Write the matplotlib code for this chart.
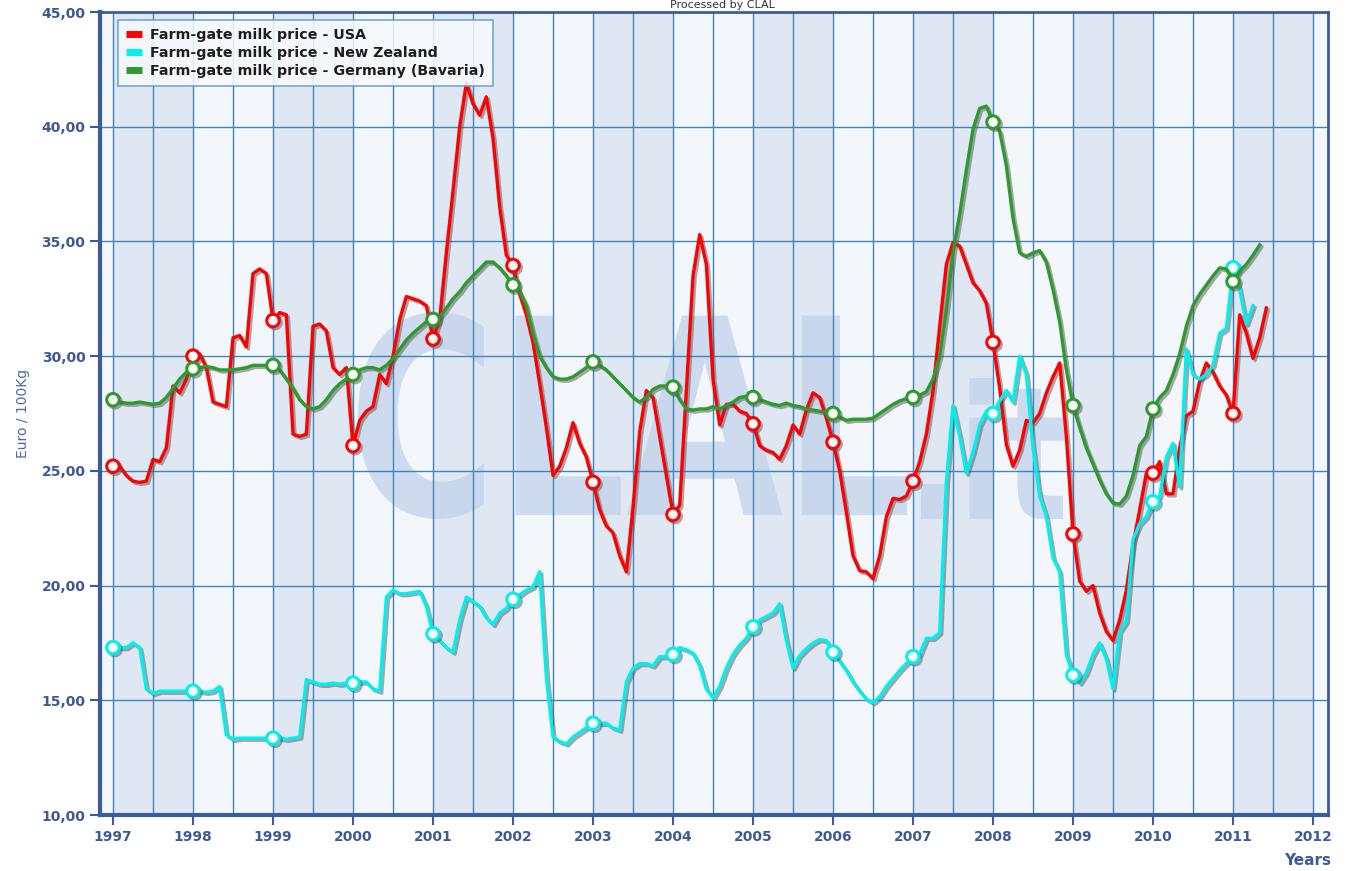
import numpy as np
import matplotlib
matplotlib.use('Agg')
import matplotlib.pyplot as plt
import matplotlib.patheffects as pe
from matplotlib.lines import Line2D
from matplotlib.textpath import TextPath
from matplotlib.patches import PathPatch
from matplotlib.font_manager import FontProperties
from matplotlib.transforms import Affine2D
from matplotlib.ticker import FuncFormatter

# monthly prices, Euro / 100Kg, starting January 1997
usa = [25.2, 25.2, 24.8, 24.55, 24.5, 24.55, 25.5, 25.4, 26.0, 28.7,
       28.4, 29.0, 30.0, 30.1, 29.5, 28.0, 27.9, 27.8, 30.8, 30.9,
       30.4, 33.6, 33.8, 33.6, 31.55, 31.9, 31.8, 26.6, 26.5, 26.6,
       31.3, 31.4, 31.1, 29.5, 29.2, 29.5, 26.1, 27.2, 27.6, 27.8,
       29.2, 28.8, 30.0, 31.6, 32.6, 32.5, 32.4, 32.2, 30.75, 31.6,
       34.5, 37.2, 40.0, 41.9, 41.0, 40.5, 41.3, 39.5, 36.5, 34.4,
       33.95, 32.7, 31.8, 30.6, 28.8, 26.9, 24.8, 25.2, 26.0, 27.1,
       26.2, 25.6, 24.5, 23.3, 22.6, 22.3, 21.3, 20.6, 23.4, 26.7,
       28.5, 28.2, 26.5, 24.8, 23.1, 23.5, 28.5, 33.5, 35.3, 34.0,
       29.0, 27.0, 27.9, 27.9, 27.6, 27.5, 27.05, 26.1, 25.9, 25.8,
       25.5, 26.1, 27.0, 26.6, 27.65, 28.4, 28.2, 27.3, 26.25, 25.0,
       23.2, 21.3, 20.65, 20.6, 20.3, 21.3, 23.0, 23.8, 23.75, 23.9,
       24.55, 25.4, 26.6, 28.5, 31.3, 34.0, 34.95, 34.8, 34.0, 33.2,
       32.85, 32.3, 30.6, 28.6, 26.15, 25.2, 25.9, 27.2, 27.1, 27.5,
       28.4, 29.1, 29.7, 26.5, 22.25, 20.2, 19.75, 20.0, 18.8, 18.0,
       17.6, 18.5, 19.8, 21.8, 23.3, 24.9, 24.9, 25.4, 24.0, 24.0,
       26.0, 27.4, 27.6, 28.9, 29.7, 29.3, 28.7, 28.3, 27.5, 31.8,
       31.0, 29.9, 30.8, 32.1]

new_zealand = [17.3, 17.3, 17.3, 17.5, 17.3, 15.5, 15.3, 15.4, 15.4, 15.4,
               15.4, 15.4, 15.4, 15.4, 15.35, 15.4, 15.6, 13.5, 13.3, 13.35,
               13.35, 13.35, 13.35, 13.35, 13.35, 13.35, 13.3, 13.35, 13.4, 15.9,
               15.8, 15.7, 15.7, 15.75, 15.7, 15.75, 15.75, 15.8, 15.8, 15.5,
               15.4, 19.5, 19.8, 19.65, 19.65, 19.7, 19.75, 19.1, 17.9, 17.6,
               17.3, 17.1, 18.5, 19.5, 19.3, 19.1, 18.6, 18.3, 18.8, 19.0,
               19.4, 19.6, 19.8, 19.95, 20.6, 16.0, 13.4, 13.2, 13.1, 13.4,
               13.6, 13.8, 14.0, 14.0, 14.0, 13.8, 13.7, 15.8, 16.4, 16.6,
               16.6, 16.5, 16.9, 16.9, 17.0, 17.3, 17.2, 17.05, 16.5, 15.5,
               15.1, 15.6, 16.4, 17.0, 17.4, 17.7, 18.2, 18.5, 18.65, 18.8,
               19.2, 17.6, 16.4, 16.95, 17.25, 17.5, 17.65, 17.6, 17.1, 16.7,
               16.3, 15.8, 15.4, 15.05, 14.9, 15.15, 15.6, 15.95, 16.3, 16.6,
               16.9, 17.0, 17.7, 17.7, 17.95, 24.5, 27.85, 26.5, 24.9, 25.8,
               27.0, 27.6, 27.5, 28.05, 28.5, 28.0, 30.0, 29.2, 26.0, 23.9,
               23.0, 21.2, 20.6, 17.0, 16.1, 15.75, 16.2, 17.0, 17.5, 16.8,
               15.5, 18.0, 18.45, 22.0, 22.7, 23.0, 23.65, 23.9, 25.6, 26.2,
               24.3, 30.3, 29.2, 29.0, 29.2, 29.6, 31.0, 31.2, 33.85, 32.9,
               31.4, 32.2]

germany = [28.1, 28.0, 27.95, 27.95, 28.0, 27.95, 27.9, 27.95, 28.2, 28.6,
           29.0, 29.3, 29.45, 29.5, 29.55, 29.5, 29.4, 29.4, 29.4, 29.45,
           29.5, 29.6, 29.6, 29.6, 29.6, 29.4, 29.0, 28.6, 28.1, 27.8,
           27.7, 27.8, 28.1, 28.5, 28.8, 29.0, 29.2, 29.4, 29.5, 29.5,
           29.4, 29.6, 29.9, 30.3, 30.7, 31.0, 31.25, 31.5, 31.6, 31.7,
           32.1, 32.5, 32.8, 33.2, 33.5, 33.8, 34.1, 34.1, 33.85, 33.5,
           33.1, 32.8, 32.2, 31.0, 30.0, 29.5, 29.1, 29.0, 29.0, 29.1,
           29.3, 29.5, 29.75, 29.6, 29.4, 29.1, 28.8, 28.5, 28.2, 28.0,
           28.2, 28.55, 28.7, 28.7, 28.65, 28.1, 27.7, 27.65, 27.7, 27.7,
           27.8, 27.7, 27.85, 28.0, 28.2, 28.25, 28.2, 28.1, 28.0, 27.9,
           27.85, 27.95, 27.85, 27.8, 27.7, 27.65, 27.6, 27.55, 27.5, 27.35,
           27.2, 27.25, 27.25, 27.25, 27.3, 27.5, 27.7, 27.9, 28.05, 28.15,
           28.2, 28.3, 28.45, 29.0, 30.0, 32.0, 34.5, 36.2, 38.1, 39.9,
           40.8, 40.9, 40.2, 39.8, 38.3, 36.0, 34.5, 34.35, 34.5, 34.6,
           34.1, 32.9, 31.5, 29.4, 27.85, 26.9, 26.0, 25.3, 24.6, 24.0,
           23.6, 23.55, 23.9, 24.8, 26.1, 26.5, 27.7, 28.2, 28.5, 29.2,
           30.1, 31.3, 32.2, 32.7, 33.1, 33.5, 33.85, 33.8, 33.25, 33.7,
           34.0, 34.4, 34.85]

series = [
    ('Farm-gate milk price - USA', usa, '#ff0000'),
    ('Farm-gate milk price - New Zealand', new_zealand, '#00f0f0'),
    ('Farm-gate milk price - Germany (Bavaria)', germany, '#2e9a2e'),
]

years = list(range(1997, 2013))
dark_blue = '#3a5c9c'
grid_blue = '#3f86bb'
W, H = 1349, 871

fig = plt.figure(figsize=(W / 100, H / 100), dpi=100)
ax = fig.add_axes([100 / W, 56 / H, 1228 / W, 803 / H])
ax.set_facecolor('#f3f7fb')
ax.set_xlim(1996.8375, 2012.1875)
ax.set_ylim(10, 45)

# alternating year bands
for y in years:
    if y % 2 == 1:
        ax.axvspan(y, y + 1, color='#dfe7f3', zorder=0, lw=0)


# watermark, placed in pixel boxes
def watermark(text, x0, x1, ytop, ybot):
    tp = TextPath((0, 0), text, size=1, prop=FontProperties(family='DejaVu Sans', weight='bold'))
    ext = tp.get_extents()
    tr = (Affine2D().translate(-ext.x0, -ext.y0)
          .scale((x1 - x0) / ext.width / W, (ybot - ytop) / ext.height / H)
          .translate(x0 / W, (H - ybot) / H))
    ax.add_patch(PathPatch(tr.transform_path(tp), transform=fig.transFigure,
                           facecolor='#c2d2eb', edgecolor='none', alpha=0.75, zorder=0.5))


watermark('CLAL', 358, 907, 312, 519)
watermark('.it', 921, 1065, 378, 519)

for v in np.arange(0.0, 16.0, 0.5):
    ax.axvline(1997 + v, color=grid_blue, lw=1, zorder=1)
for v in range(15, 45, 5):
    ax.axhline(v, color=grid_blue, lw=1, zorder=1)

shadow = [pe.SimpleLineShadow(offset=(1.5, -1.5), shadow_color='#555555', alpha=0.5), pe.Normal()]
handles = []
for label, vals, col in series:
    xs = 1997 + np.arange(len(vals)) / 12.0
    ax.plot(xs, vals, color=col, lw=2.4, zorder=3, marker='o', markevery=list(range(0, len(vals), 12)),
            markersize=9, markerfacecolor='white', markeredgecolor=col, markeredgewidth=2.2,
            path_effects=shadow, solid_joinstyle='round')
    handles.append(Line2D([], [], color=col, lw=5, solid_capstyle='butt'))

leg = ax.legend(handles, [s[0] for s in series], loc='upper left',
                bbox_to_anchor=(0.0147, 0.99), borderaxespad=0, handlelength=1.1,
                handletextpad=0.6, labelspacing=0.3,
                prop={'weight': 'bold', 'size': 10.3}, fancybox=False, framealpha=0.85,
                borderpad=0.55)
leg.get_frame().set_edgecolor('#5c9cc4')
leg.get_frame().set_linewidth(1.2)
leg.get_frame().set_facecolor('#f7fafd')
leg.set_zorder(5)
for t in leg.get_texts():
    t.set_color('#1e1e1e')

for s in ax.spines.values():
    s.set_color(dark_blue)
    s.set_linewidth(3)
ax.spines['right'].set_linewidth(2)
ax.spines['top'].set_linewidth(2)

ax.set_xticks(years)
ax.set_yticks(range(10, 50, 5))
ax.yaxis.set_major_formatter(FuncFormatter(lambda v, p: f'{v:.2f}'.replace('.', ',')))
ax.tick_params(direction='out', length=7, width=1.5, color=dark_blue,
               labelcolor='#3d5a96', labelsize=10)
ax.tick_params(axis='x', pad=4)
for lab in ax.get_xticklabels() + ax.get_yticklabels():
    lab.set_fontweight('bold')

ax.set_ylabel('Euro / 100Kg', color='#4a6aa8', fontsize=10, labelpad=8)
fig.text(1308 / W, 1 - 860 / H, 'Years', color='#3d5a96', fontsize=11,
         fontweight='bold', ha='center', va='center')
fig.text(722 / W, 0.9995, 'Processed by CLAL', color='#333333', fontsize=8,
         ha='center', va='top')

fig.savefig('out.png', dpi=100)
